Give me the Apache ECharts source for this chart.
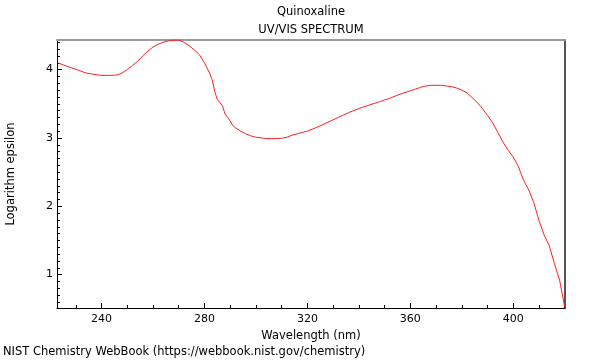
<!DOCTYPE html>
<html><head><meta charset="utf-8">
<script src="https://cdn.jsdelivr.net/npm/echarts@6/dist/echarts.min.js"></script>
<style>html,body{margin:0;padding:0;background:#fff}#c{width:600px;height:360px}</style>
</head><body><div id="c"></div>
<script>
const wavelengths = [223,225,228,231,234,237,240,243,246,248,250,252,254,256,258,260,262,264,266,268,270,272,274,276,278,280,282,283,284,285,286,287,288,289,290,291,292,294,296,298,300,302,304,306,308,310,312,314,316,318,320,324,328,332,336,340,344,348,352,356,360,364,366,368,370,372,374,376,378,380,382,384,386,388,390,392,394,396,398,400,402,404,406,408,410,412,414,416,418,420];
const logEpsilon = [4.10,4.07,4.03,3.99,3.95,3.93,3.915,3.915,3.92,3.95,4.00,4.06,4.12,4.20,4.27,4.33,4.37,4.40,4.42,4.43,4.43,4.40,4.35,4.29,4.22,4.10,3.95,3.85,3.68,3.56,3.52,3.47,3.35,3.30,3.25,3.18,3.15,3.10,3.06,3.03,3.01,3.00,2.99,2.99,2.99,2.995,3.01,3.04,3.06,3.08,3.10,3.16,3.23,3.30,3.37,3.43,3.48,3.53,3.58,3.64,3.69,3.74,3.76,3.77,3.77,3.77,3.76,3.75,3.73,3.70,3.66,3.59,3.52,3.43,3.33,3.22,3.08,2.94,2.82,2.72,2.58,2.38,2.24,2.05,1.79,1.58,1.42,1.16,0.92,0.52];
const xMajorTicks = [240,280,320,360,400];
const xMinorTicks = [230,250,260,270,290,300,310,330,340,350,370,380,390,410,420];
const yMajorTicks = [1,2,3,4];
const yMinorTicks = [0.6,0.7,0.8,0.9,1.1,1.2,1.3,1.4,1.5,1.6,1.7,1.8,1.9,2.1,2.2,2.3,2.4,2.5,2.6,2.7,2.8,2.9,3.1,3.2,3.3,3.4,3.5,3.6,3.7,3.8,3.9,4.1,4.2,4.3,4.4];
const titleText = 'Quinoxaline';
const subtitleText = 'UV/VIS SPECTRUM';
const xName = 'Wavelength (nm)';
const yName = 'Logarithm epsilon';
const footer = 'NIST Chemistry WebBook (https://webbook.nist.gov/chemistry)';

const XMIN = 222.7, XMAX = 420.1, YMIN = 0.511, YMAX = 4.433;
const FONT = 'DejaVu Sans';
const FS = 11.5;
const chart = echarts.init(document.getElementById('c'), null, {renderer: 'canvas'});
const noLbl = {show:false};
chart.setOption({
  animation: false,
  textStyle: {fontFamily: FONT},
  title: [
    {text: titleText, left: 311, top: 6, padding: 0, textAlign: 'center', textStyle: {fontSize: FS, fontWeight: 'normal', color: '#000', fontFamily: FONT}},
    {text: subtitleText, left: 311, top: 24, padding: 0, textAlign: 'center', textStyle: {fontSize: FS, fontWeight: 'normal', color: '#000', fontFamily: FONT}},
    {text: footer, left: 3, top: 346, padding: 0, textStyle: {fontSize: FS, fontWeight: 'normal', color: '#000', fontFamily: FONT}}
  ],
  grid: {left: 57, right: 35, top: 40, bottom: 52, containLabel: false, outerBoundsMode: 'none'},
  xAxis: [
    {type: 'value', min: XMIN, max: XMAX, position: 'bottom',
     name: xName, nameLocation: 'middle', nameGap: 15, nameTextStyle: {fontSize: FS, color: '#000', fontFamily: FONT},
     axisLine: {show: true, lineStyle: {color: '#000', width: 1}},
     axisTick: {show: true, inside: true, length: 5, customValues: xMajorTicks, lineStyle: {color: '#000'}},
     axisLabel: {show: true, fontSize: 11, color: '#000', margin: 6, customValues: xMajorTicks, fontFamily: FONT},
     splitLine: {show: false}},
    {type: 'value', min: XMIN, max: XMAX, position: 'bottom',
     axisLine: {show: false}, axisTick: {show: true, inside: true, length: 3, customValues: xMinorTicks, lineStyle: {color: '#000'}},
     axisLabel: noLbl, splitLine: {show: false}},
    {type: 'value', min: XMIN, max: XMAX, position: 'top',
     axisLine: {show: true, lineStyle: {color: '#999', width: 2}}, axisTick: {show: false}, axisLabel: noLbl, splitLine: {show: false}}
  ],
  yAxis: [
    {type: 'value', min: YMIN, max: YMAX, position: 'left',
     name: yName, nameLocation: 'middle', nameGap: 40, nameTextStyle: {fontSize: FS, color: '#000', fontFamily: FONT},
     axisLine: {show: true, lineStyle: {color: '#000', width: 1}},
     axisTick: {show: true, inside: true, length: 5, customValues: yMajorTicks, lineStyle: {color: '#000'}},
     axisLabel: {show: true, fontSize: 11, color: '#000', margin: 4, customValues: yMajorTicks, fontFamily: FONT},
     splitLine: {show: false}},
    {type: 'value', min: YMIN, max: YMAX, position: 'left',
     axisLine: {show: false}, axisTick: {show: true, inside: true, length: 3, customValues: yMinorTicks, lineStyle: {color: '#000'}},
     axisLabel: noLbl, splitLine: {show: false}},
    {type: 'value', min: YMIN, max: YMAX, position: 'right',
     axisLine: {show: true, lineStyle: {color: '#555', width: 2}}, axisTick: {show: false}, axisLabel: noLbl, splitLine: {show: false}}
  ],
  series: [{
    type: 'line', xAxisIndex: 0, yAxisIndex: 0, showSymbol: false, symbol: 'none',
    data: wavelengths.map((w, i) => [w, logEpsilon[i]]),
    lineStyle: {color: '#ff2020', width: 1}, smooth: false
  }]
});
</script></body></html>
